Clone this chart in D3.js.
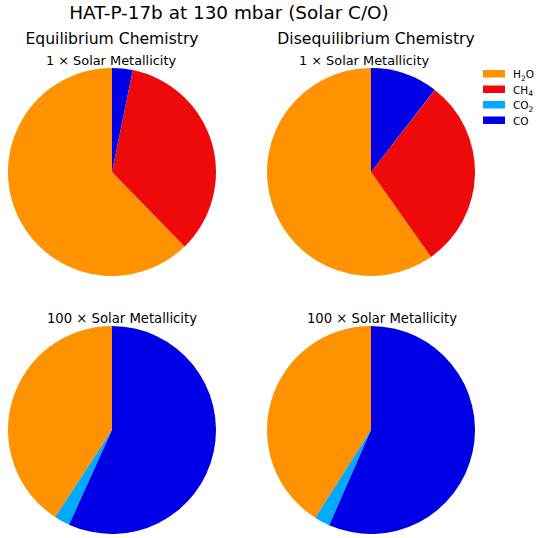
<!DOCTYPE html>
<html>
<head>
<meta charset="utf-8">
<script src="https://cdn.jsdelivr.net/npm/d3@7"></script>
<style>
  body { margin: 0; background: #fff; }
  text { font-family: "DejaVu Sans", sans-serif; fill: #000; }
</style>
</head>
<body>
<div id="chart"></div>
<script>
const w = 536;
const h = 538;
const r = 104;

// species and colours
const species = [["H", "2", "O"], ["CH", "4", ""], ["CO", "2", ""], ["CO", "", ""]];
const colors = ["#ff9200", "#ee0a0a", "#00aaff", "#0000e6"];

// mixing fractions (H2O, CH4, CO2, CO)
const eq_1x = [0.623, 0.345, 0.0002, 0.032];
const diseq_1x = [0.598, 0.297, 0.0002, 0.105];
const eq_100x = [0.408, 0.0004, 0.024, 0.568];
const diseq_100x = [0.410, 0.0004, 0.024, 0.566];

const panels = [
  {values: eq_1x, cx: 112, cy: 172},
  {values: diseq_1x, cx: 371, cy: 172},
  {values: eq_100x, cx: 112, cy: 430},
  {values: diseq_100x, cx: 371, cy: 430}
];

const labels = [
  {text: "HAT-P-17b at 130 mbar (Solar C/O)", x: 229, y: 19, size: 18.4},
  {text: "Equilibrium Chemistry", x: 112, y: 44, size: 15.6},
  {text: "Disequilibrium Chemistry", x: 376, y: 44, size: 15.6},
  {text: "1 × Solar Metallicity", x: 111, y: 65, size: 12.9},
  {text: "1 × Solar Metallicity", x: 364, y: 65, size: 12.9},
  {text: "100 × Solar Metallicity", x: 122, y: 323, size: 13.2},
  {text: "100 × Solar Metallicity", x: 382, y: 323, size: 13.2}
];

const svg = d3.select("#chart")
  .append("svg")
    .attr("width", w)
    .attr("height", h);

// matplotlib style: start at top, go counterclockwise
const pie = d3.pie()
  .sort(null)
  .startAngle(0)
  .endAngle(-2 * Math.PI);

const arc = d3.arc()
  .innerRadius(0)
  .outerRadius(r);

panels.forEach(p => {
  svg.append("g")
    .attr("transform", "translate(" + p.cx + "," + p.cy + ")")
    .selectAll("path")
    .data(pie(p.values))
    .enter()
    .append("path")
      .attr("d", arc)
      .attr("fill", (d, i) => colors[i]);
});

svg.selectAll("text.lbl")
  .data(labels)
  .enter()
  .append("text")
    .attr("class", "lbl")
    .attr("x", d => d.x)
    .attr("y", d => d.y)
    .attr("text-anchor", "middle")
    .attr("font-size", d => d.size + "px")
    .text(d => d.text);

// legend
const legend = svg.append("g")
  .attr("transform", "translate(483,70)");

const item = legend.selectAll("g")
  .data(species)
  .enter()
  .append("g")
    .attr("transform", (d, i) => "translate(0," + (i * 15.5) + ")");

item.append("rect")
  .attr("width", 22)
  .attr("height", 7.5)
  .attr("fill", (d, i) => colors[i]);

const t = item.append("text")
  .attr("x", 30)
  .attr("y", 8)
  .attr("font-size", "10.5px");

t.append("tspan").text(d => d[0]);
t.append("tspan")
  .attr("font-size", "7.5px")
  .attr("dy", 2.5)
  .text(d => d[1]);
t.append("tspan")
  .attr("dy", d => d[1] ? -2.5 : 0)
  .text(d => d[2]);
</script>
</body>
</html>
